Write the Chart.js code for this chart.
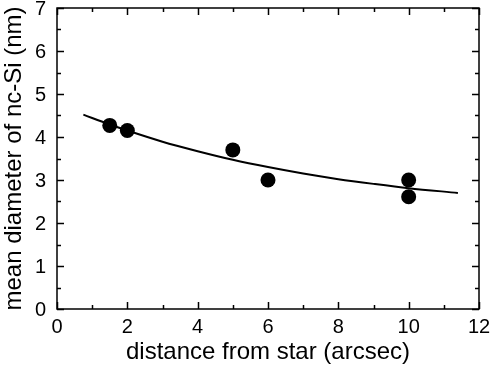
<!DOCTYPE html>
<html>
<head>
<meta charset="utf-8">
<script src="https://cdn.jsdelivr.net/npm/chart.js@4"></script>
<style>
  html, body { margin: 0; padding: 0; background: #fff; }
  #wrap { width: 492px; height: 367px; }
</style>
</head>
<body>
<div id="wrap"><canvas id="chart"></canvas></div>
<script>
// measured points
const distance = [1.5, 2, 5, 6, 10, 10];
const diameter = [4.27, 4.15, 3.70, 3.00, 3.00, 2.61];

// fitted curve
const fitX = [0.75, 1.5, 2, 3, 4, 5, 6, 7, 8, 9, 10, 11.4];
const fitY = [4.52, 4.29, 4.15, 3.89, 3.67, 3.47, 3.30, 3.15, 3.02, 2.91, 2.81, 2.70];

const xTitle = 'distance from star (arcsec)';
const yTitle = 'mean diameter of nc-Si (nm)';

const fontFamily = 'Arial, "Liberation Sans", sans-serif';

// box round the plot with inward ticks on all four sides
const boxPlugin = {
    id: 'box',
    afterDraw(chart) {
        const ctx = chart.ctx;
        const area = chart.chartArea;
        const xs = chart.scales.x;
        const ys = chart.scales.y;
        ctx.save();
        ctx.strokeStyle = '#000';
        ctx.lineWidth = 1.5;
        ctx.strokeRect(area.left, area.top, area.right - area.left, area.bottom - area.top);
        ctx.beginPath();
        for (let v = 0; v <= 7; v += 0.5) {
            const y = Math.round(ys.getPixelForValue(v)) + 0.5;
            const len = Number.isInteger(v) ? 7 : 4;
            ctx.moveTo(area.left, y);
            ctx.lineTo(area.left + len, y);
            ctx.moveTo(area.right, y);
            ctx.lineTo(area.right - len, y);
        }
        for (let v = 0; v <= 12; v += 1) {
            const x = Math.round(xs.getPixelForValue(v)) + 0.5;
            const len = v % 2 === 0 ? 7 : 4;
            ctx.moveTo(x, area.bottom);
            ctx.lineTo(x, area.bottom - len);
            ctx.moveTo(x, area.top);
            ctx.lineTo(x, area.top + len);
        }
        ctx.stroke();
        ctx.restore();
    }
};

// keep the plot box where the reference has it, labels may overhang
function noOverhang(scale) {
    scale.paddingTop = 0;
    scale.paddingBottom = 0;
    scale.paddingLeft = 0;
    scale.paddingRight = 0;
}

const chart = new Chart(document.getElementById('chart').getContext('2d'), {
    type: 'scatter',
    data: {
        datasets: [
            {
                label: 'data',
                data: distance.map((d, i) => ({ x: d, y: diameter[i] })),
                pointRadius: 7.5,
                pointHoverRadius: 7.5,
                backgroundColor: '#000',
                borderColor: '#000',
                borderWidth: 0,
                showLine: false
            },
            {
                label: 'fit',
                type: 'line',
                data: fitX.map((d, i) => ({ x: d, y: fitY[i] })),
                borderColor: '#000',
                borderWidth: 2,
                pointRadius: 0,
                cubicInterpolationMode: 'monotone',
                fill: false
            }
        ]
    },
    options: {
        responsive: true,
        maintainAspectRatio: false,
        animation: false,
        events: [],
        layout: { padding: { top: 8, right: 13, left: 0, bottom: 0 } },
        plugins: {
            legend: { display: false },
            tooltip: { enabled: false }
        },
        scales: {
            x: {
                type: 'linear',
                min: 0,
                max: 12,
                afterFit(scale) { scale.height = 58; noOverhang(scale); },
                grid: { display: false, drawTicks: false, tickLength: 0 },
                border: { display: false },
                ticks: {
                    stepSize: 2,
                    padding: 6,
                    color: '#000',
                    font: { family: fontFamily, size: 20 }
                },
                title: {
                    display: true,
                    text: xTitle,
                    color: '#000',
                    font: { family: fontFamily, size: 24 },
                    padding: 0
                }
            },
            y: {
                type: 'linear',
                min: 0,
                max: 7,
                afterFit(scale) { scale.width = 57; noOverhang(scale); },
                grid: { display: false, drawTicks: false, tickLength: 0 },
                border: { display: false },
                ticks: {
                    stepSize: 1,
                    padding: 11,
                    labelOffset: 1,
                    color: '#000',
                    font: { family: fontFamily, size: 20 }
                },
                title: {
                    display: true,
                    text: yTitle,
                    color: '#000',
                    font: { family: fontFamily, size: 24 },
                    padding: 0
                }
            }
        }
    },
    plugins: [boxPlugin]
});
</script>
</body>
</html>
